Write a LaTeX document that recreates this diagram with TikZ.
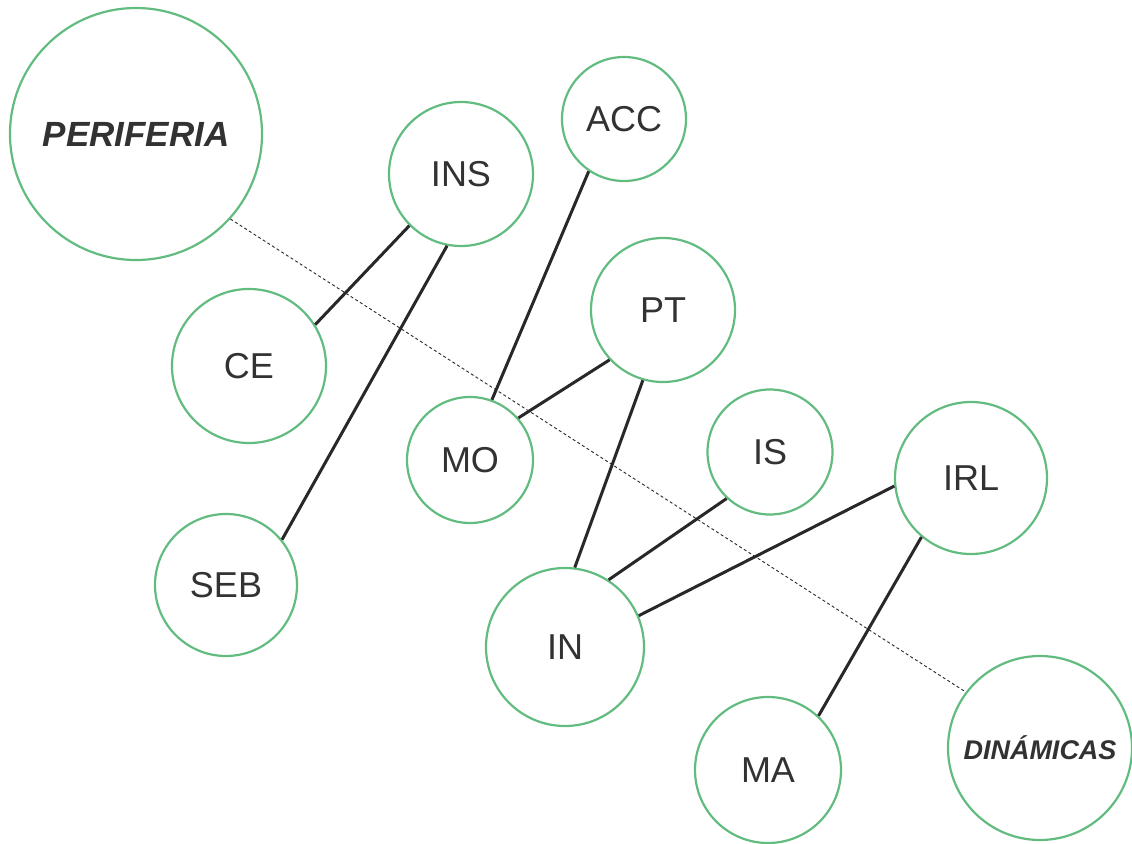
\documentclass[tikz,border=0pt]{standalone}
\usepackage{fontspec}
\setmainfont{Liberation Sans}
\definecolor{ringgreen}{RGB}{98,188,128}
\definecolor{txtgray}{RGB}{50,50,50}
\definecolor{linkgray}{RGB}{40,40,40}
\tikzset{
  bubble/.style={circle, draw=ringgreen, line width=2.2pt, fill=white, inner sep=0pt, text=txtgray, font=\fontsize{36}{42}\selectfont},
  bigbubble/.style={bubble, font=\fontsize{35}{42}\selectfont\bfseries\itshape},
  link/.style={draw=linkgray, line width=3pt},
  axis/.style={draw=linkgray, line width=0.9pt, dash pattern=on 3pt off 2.5pt}
}
\begin{document}
\begin{tikzpicture}[x=1pt,y=-1pt]
\useasboundingbox (0,0) rectangle (1132,843);
\node[bigbubble, minimum size=252pt] (per) at (136,134) {PERIFERIA};
\node[bigbubble, minimum size=184pt, font=\fontsize{27}{32}\selectfont\bfseries\itshape] (din) at (1040,748) {DINÁMICAS};
\node[bubble, minimum size=144pt] (ins) at (461,174) {INS};
\node[bubble, minimum size=124pt] (acc) at (624,119) {ACC};
\node[bubble, minimum size=154pt] (ce) at (249,366) {CE};
\node[bubble, minimum size=144pt] (pt) at (663,310) {PT};
\node[bubble, minimum size=126pt] (mo) at (470,460) {MO};
\node[bubble, minimum size=125pt] (is) at (770,452) {IS};
\node[bubble, minimum size=152pt] (irl) at (971,478) {IRL};
\node[bubble, minimum size=142pt] (seb) at (226,585) {SEB};
\node[bubble, minimum size=158pt] (in) at (565,647) {IN};
\node[bubble, minimum size=146pt] (ma) at (768,770) {MA};
\draw[axis] (per.318.8) -- (din.143.5);
\draw[link] (ce.32) -- (ins.225.6);
\draw[link] (seb.39.4) -- (ins.259.6);
\draw[link] (mo.70.7) -- (acc.236.8);
\draw[link] (mo.41.9) -- (pt.223.3);
\draw[link] (in.83.5) -- (pt.254.3);
\draw[link] (in.57.3) -- (is.227.6);
\draw[link] (in.23) -- (irl.186.8);
\draw[link] (ma.47.8) -- (irl.230.4);
\end{tikzpicture}
\end{document}
